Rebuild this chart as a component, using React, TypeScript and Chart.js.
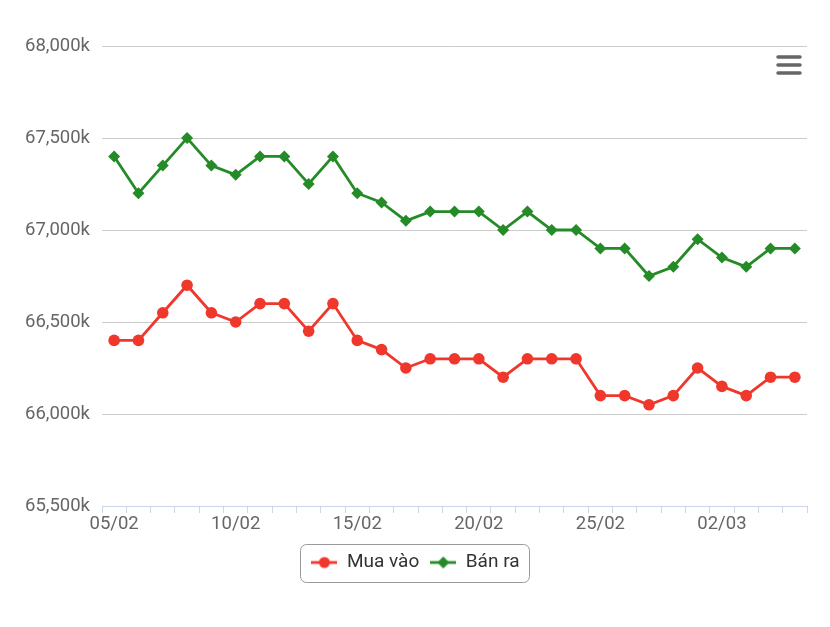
import React, { useEffect, useRef } from "react";
import { Chart, registerables } from "chart.js";

Chart.register(...registerables);

const categories = [
  "05/02", "06/02", "07/02", "08/02", "09/02", "10/02", "11/02", "12/02", "13/02", "14/02",
  "15/02", "16/02", "17/02", "18/02", "19/02", "20/02", "21/02", "22/02", "23/02", "24/02",
  "25/02", "26/02", "27/02", "28/02", "01/03", "02/03", "03/03", "04/03", "05/03",
];

const muaVao = [
  66400, 66400, 66550, 66700, 66550, 66500, 66600, 66600, 66450, 66600,
  66400, 66350, 66250, 66300, 66300, 66300, 66200, 66300, 66300, 66300,
  66100, 66100, 66050, 66100, 66250, 66150, 66100, 66200, 66200,
];

const banRa = [
  67400, 67200, 67350, 67500, 67350, 67300, 67400, 67400, 67250, 67400,
  67200, 67150, 67050, 67100, 67100, 67100, 67000, 67100, 67000, 67000,
  66900, 66900, 66750, 66800, 66950, 66850, 66800, 66900, 66900,
];

const xTickLabels = ["05/02", "10/02", "15/02", "20/02", "25/02", "02/03"];
const yMin = 65500;
const yMax = 68000;
const yStep = 500;

const RED = "#f0372b";
const GREEN = "#248b27";
const FONT = "Roboto, 'Noto Sans', sans-serif";

function makeLegendIcon(color: string, style: "circle" | "diamond") {
  const c = document.createElement("canvas");
  c.width = 26;
  c.height = 14;
  const g = c.getContext("2d")!;
  g.strokeStyle = color;
  g.fillStyle = color;
  g.lineWidth = 2.8;
  g.beginPath();
  g.moveTo(0, 7);
  g.lineTo(26, 7);
  g.stroke();
  g.beginPath();
  if (style === "circle") {
    g.arc(13, 7, 5.5, 0, Math.PI * 2);
  } else {
    g.moveTo(13, 1);
    g.lineTo(19, 7);
    g.lineTo(13, 13);
    g.lineTo(7, 7);
    g.closePath();
  }
  g.fill();
  return c;
}

const legendShiftPlugin = {
  id: "legendShift",
  afterLayout(chart: any) {
    const lg = chart.legend;
    if (!lg) return;
    lg.left += 12;
    lg.right += 12;
  },
};

const legendBorderPlugin = {
  id: "legendBorder",
  afterDraw(chart: any) {
    const lg = chart.legend;
    if (!lg || !lg.legendHitBoxes || !lg.legendHitBoxes.length) return;
    const hb = lg.legendHitBoxes;
    const first = hb[0];
    const last = hb[hb.length - 1];
    const left = first.left - 11;
    const right = last.left + last.width + 10;
    const cy = first.top + first.height / 2;
    const top = cy - 19;
    const h = 38;
    const ctx = chart.ctx;
    ctx.save();
    ctx.strokeStyle = "#999999";
    ctx.lineWidth = 1;
    ctx.beginPath();
    (ctx as any).roundRect(Math.round(left) + 0.5, Math.round(top) + 0.5, Math.round(right - left), h, 6);
    ctx.stroke();
    ctx.restore();
  },
};

const menuIconPlugin = {
  id: "menuIcon",
  afterDraw(chart: any) {
    const ctx = chart.ctx;
    ctx.save();
    ctx.strokeStyle = "#666666";
    ctx.lineWidth = 3.5;
    ctx.lineCap = "round";
    [57, 65, 73].forEach((y) => {
      ctx.beginPath();
      ctx.moveTo(778, y);
      ctx.lineTo(800, y);
      ctx.stroke();
    });
    ctx.restore();
  },
};

export default function App() {
  const ref = useRef<HTMLCanvasElement>(null);

  useEffect(() => {
    if (!ref.current) return;
    const redIcon = makeLegendIcon(RED, "circle");
    const greenIcon = makeLegendIcon(GREEN, "diamond");
    const chart = new Chart(ref.current, {
      type: "line",
      data: {
        labels: categories,
        datasets: [
          {
            label: "Mua vào",
            data: muaVao,
            borderColor: RED,
            backgroundColor: RED,
            borderWidth: 2.8,
            pointStyle: "circle",
            pointRadius: 5.8,
            pointHoverRadius: 5.8,
            pointBorderWidth: 0,
            tension: 0,
          },
          {
            label: "Bán ra",
            data: banRa,
            borderColor: GREEN,
            backgroundColor: GREEN,
            borderWidth: 2.8,
            pointStyle: "rectRot",
            pointRadius: 6,
            pointHoverRadius: 6,
            pointBorderWidth: 0,
            tension: 0,
          },
        ],
      },
      options: {
        animation: false,
        responsive: false,
        maintainAspectRatio: false,
        layout: { padding: { top: 46, right: 23, left: 0, bottom: 45 } },
        plugins: {
          tooltip: { enabled: false },
          legend: {
            position: "bottom",
            labels: {
              color: "#333333",
              font: { family: FONT, size: 19 },
              usePointStyle: true,
              pointStyleWidth: 26,
              padding: 11,
              generateLabels: (ch: any) => {
                const items = Chart.defaults.plugins.legend.labels.generateLabels(ch);
                return items.map((it: any, i: number) => ({
                  ...it,
                  pointStyle: i === 0 ? redIcon : greenIcon,
                }));
              },
            },
          },
        },
        scales: {
          x: {
            type: "category",
            offset: true,
            grid: {
              offset: true,
              drawOnChartArea: false,
              drawTicks: true,
              tickLength: 7,
              color: "#ccd6eb",
              lineWidth: 1,
            },
            border: { display: true, color: "#ccd6eb", width: 1 },
            ticks: {
              autoSkip: false,
              maxRotation: 0,
              minRotation: 0,
              padding: 0,
              color: "#666666",
              font: { family: FONT, size: 18.5 },
              callback: (_v: any, i: number) =>
                xTickLabels.includes(categories[i]) ? categories[i] : "",
            },
            afterFit: (s: any) => {
              s.height = 36;
            },
          },
          y: {
            min: yMin,
            max: yMax,
            grid: {
              drawTicks: false,
              color: (c: any) => (c.tick && c.tick.value === yMin ? "rgba(0,0,0,0)" : "#cccccc"),
              lineWidth: 1,
            },
            border: { display: false },
            ticks: {
              stepSize: yStep,
              padding: 12,
              color: "#666666",
              font: { family: FONT, size: 18.5 },
              callback: (v: any) => `${Number(v).toLocaleString("en-US")}k`,
            },
            afterFit: (s: any) => {
              s.width = 102;
            },
          },
        },
      },
      plugins: [legendShiftPlugin, legendBorderPlugin, menuIconPlugin],
    });
    return () => chart.destroy();
  }, []);

  return (
    <div style={{ position: "fixed", left: 0, top: 0, width: 830, height: 627, background: "#ffffff" }}>
      <canvas ref={ref} width={830} height={627} style={{ display: "block" }} />
    </div>
  );
}
